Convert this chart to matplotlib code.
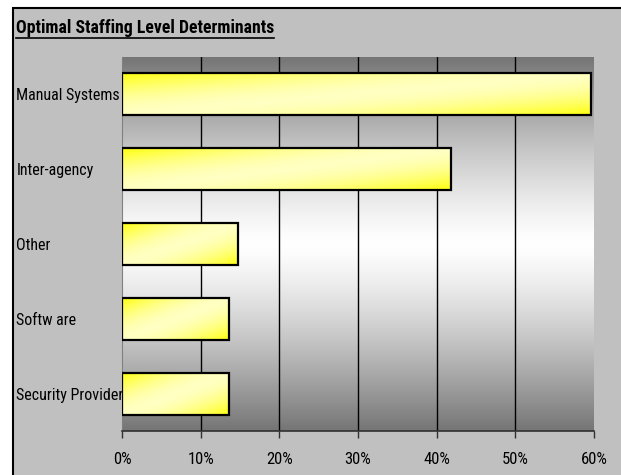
import numpy as np
import matplotlib
matplotlib.use("Agg")
import matplotlib.pyplot as plt
from matplotlib.patches import Rectangle
from matplotlib.lines import Line2D
from matplotlib import ticker

CATEGORIES = ["Manual Systems", "Inter-agency", "Other", "Softw are", "Security Provider"]
VALUES = [59.6, 41.8, 14.8, 13.6, 13.6]
XTICKS = [0, 10, 20, 30, 40, 50, 60]
TITLE = "Optimal Staffing Level Determinants"

plt.rcParams['font.family'] = ['Roboto Condensed', 'Liberation Sans', 'DejaVu Sans']
plt.rcParams['font.size'] = 11.5

W, H = 621, 475
fig = plt.figure(figsize=(W / 100, H / 100), dpi=100)
fig.patch.set_facecolor("white")

# gray chart frame, runs off the right and bottom edges
fig.patches.append(Rectangle((13 / W, -0.05), 1.1, 1 - 8 / H + 0.05,
                             transform=fig.transFigure, facecolor="#c0c0c0",
                             edgecolor="black", linewidth=1.5, zorder=0))

ax = fig.add_axes([122 / W, 1 - 431 / H, (594 - 122) / W, (431 - 57) / H])
ax.set_facecolor("none")

# plot area: dark gray at top and bottom, white in the middle
n = 256
s = np.abs(np.linspace(-1, 1, n))
shade = 1.0 - (1.0 - 0.46) * s ** 1.3
bg = np.dstack([shade, shade, shade]).reshape(n, 1, 3)
ax.imshow(bg, extent=[0, 1, 0, 1], transform=ax.transAxes, aspect="auto",
          interpolation="bicubic", zorder=0)

for x in XTICKS[1:-1]:
    ax.axvline(x, color="black", linewidth=1, zorder=1)

# diagonal fill: yellow in the top-left and bottom-right corners, pale in between
bar_h = 0.56
yellow = np.array([1.0, 1.0, 0.05])
pale = np.array([1.0, 1.0, 0.76])
for i, v in enumerate(VALUES):
    y0, y1 = i - bar_h / 2, i + bar_h / 2
    u = np.linspace(0, 1, 300)[None, :]
    w = np.linspace(0, 1, 60)[:, None]
    t = (u + w) / 2
    f = np.abs(1 - 2 * t) ** 1.7
    img = pale[None, None, :] * (1 - f[..., None]) + yellow[None, None, :] * f[..., None]
    # row 0 is the top edge of the bar (y axis is inverted)
    ax.imshow(img, extent=[0, v, y1, y0], aspect="auto", interpolation="bilinear", zorder=2)
    ax.add_patch(Rectangle((0, y0), v, bar_h, facecolor="none",
                           edgecolor="black", linewidth=1.6, zorder=3))

ax.set_xlim(0, 60)
ax.set_ylim(4.5, -0.5)
ax.set_xticks(XTICKS)
ax.xaxis.set_major_formatter(ticker.FuncFormatter(lambda x, p: "%d%%" % x))
ax.set_yticks(range(len(CATEGORIES)))
ax.set_yticklabels(CATEGORIES, ha="left")
ax.tick_params(axis="y", length=0, pad=76)
ax.tick_params(axis="x", length=5, width=1, color="#303030", pad=10, labelsize=12)

for side in ["top", "right"]:
    ax.spines[side].set_visible(False)
ax.spines["left"].set_color("#808080")
ax.spines["bottom"].set_color("#303030")
ax.spines["bottom"].set_linewidth(1.2)
ax.set_zorder(2)

title = fig.text(16 / W, 1 - 33 / H, TITLE, fontweight="bold", fontsize=12.8,
                 va="baseline", ha="left")
fig.canvas.draw()
bb = title.get_window_extent()
y_line = 1 - 38 / H
fig.add_artist(Line2D([bb.x0 / W, bb.x1 / W], [y_line, y_line], transform=fig.transFigure,
                      color="black", linewidth=1.2))

fig.savefig("out.png", dpi=100)
